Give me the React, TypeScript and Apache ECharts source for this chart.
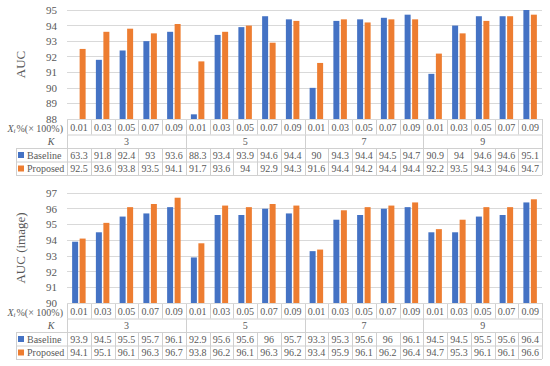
import React, { useEffect, useRef } from 'react';
import * as echarts from 'echarts';

const xiLabels = ['0.01', '0.03', '0.05', '0.07', '0.09'];
const kValues = ['3', '5', '7', '9'];
const categories = kValues.flatMap((k) => xiLabels.map((x) => `${k}|${x}`));

const aucBaseline = [63.3, 91.8, 92.4, 93, 93.6, 88.3, 93.4, 93.9, 94.6, 94.4, 90, 94.3, 94.4, 94.5, 94.7, 90.9, 94, 94.6, 94.6, 95.1];
const aucProposed = [92.5, 93.6, 93.8, 93.5, 94.1, 91.7, 93.6, 94, 92.9, 94.3, 91.6, 94.4, 94.2, 94.4, 94.4, 92.2, 93.5, 94.3, 94.6, 94.7];
const imgBaseline = [93.9, 94.5, 95.5, 95.7, 96.1, 92.9, 95.6, 95.6, 96, 95.7, 93.3, 95.3, 95.6, 96, 96.1, 94.5, 94.5, 95.5, 95.6, 96.4];
const imgProposed = [94.1, 95.1, 96.1, 96.3, 96.7, 93.8, 96.2, 96.1, 96.3, 96.2, 93.4, 95.9, 96.1, 96.2, 96.4, 94.7, 95.3, 96.1, 96.1, 96.6];

const seriesNames = ['Baseline', 'Proposed'];
const colors = ['#4472C4', '#ED7D31'];

const W = 550;
const H = 366;
const GL = 67;
const GR = 542;
const FONT = 'Liberation Serif';
const TXT = '#595959';
const LINE = '#D0D0D0';

function txt(x: number, y: number, text: string, align: string, extra: any = {}) {
  return {
    type: 'text',
    silent: true,
    style: {
      x,
      y,
      text,
      align,
      verticalAlign: 'middle',
      textAlign: align,
      textVerticalAlign: 'middle',
      fill: TXT,
      fontSize: 10,
      lineHeight: 10,
      fontFamily: FONT,
      ...extra,
    },
  };
}

function ln(x1: number, y1: number, x2: number, y2: number) {
  return {
    type: 'line',
    silent: true,
    shape: { x1, y1, x2, y2 },
    style: { stroke: LINE, lineWidth: 1 },
  };
}

function tableElements(top: number, base: number[], prop: number[]) {
  const els: any[] = [];
  const n = categories.length;
  const cw = (GR - GL) / n;
  const r = [top, top + 15.5, top + 29, top + 42.5, top + 56];
  const c = [top + 8.5, top + 22.5, top + 36, top + 49.5];
  els.push(ln(GL, r[0] + 0.5, GR, r[0] + 0.5));
  els.push(ln(GL, r[1] + 0.5, GR, r[1] + 0.5));
  els.push(ln(16, r[2] + 0.5, GR, r[2] + 0.5));
  els.push(ln(16, r[3] + 0.5, GR, r[3] + 0.5));
  els.push(ln(16, r[4] + 0.5, GR, r[4] + 0.5));
  for (let i = 0; i <= n; i++) {
    const x = Math.round(GL + i * cw) + 0.5;
    els.push(ln(x, r[0], x, r[1]));
    if (i % xiLabels.length === 0) els.push(ln(x, r[1], x, r[2]));
    els.push(ln(x, r[2], x, r[4]));
  }
  els.push(ln(16.5, r[2], 16.5, r[4]));
  // X_i %(x 100%) label, split into pieces to draw the subscript
  const ly = c[0] + 1;
  els.push(txt(63, ly, '%(× 100%)', 'right'));
  els.push(txt(14.5, ly + 2.5, 'i', 'center', { fontStyle: 'italic', fontSize: 7, lineHeight: 7 }));
  els.push(txt(13.5, ly, 'X', 'right', { fontStyle: 'italic' }));
  els.push(txt(51, c[1], 'K', 'center', { fontStyle: 'italic' }));
  [c[2], c[3]].forEach((cy, si) => {
    els.push({
      type: 'rect',
      silent: true,
      shape: { x: 18, y: cy - 3, width: 6, height: 6 },
      style: { fill: colors[si] },
    });
    els.push(txt(27, cy, seriesNames[si], 'left'));
  });
  categories.forEach((cat, i) => {
    const cx = GL + (i + 0.5) * cw;
    els.push(txt(cx, c[0], xiLabels[i % xiLabels.length], 'center'));
    els.push(txt(cx, c[2], String(base[i]), 'center'));
    els.push(txt(cx, c[3], String(prop[i]), 'center'));
  });
  kValues.forEach((k, gi) => {
    const cx = GL + (gi + 0.5) * xiLabels.length * cw;
    els.push(txt(cx, c[1], k, 'center'));
  });
  return els;
}

const grids = [
  { top: 10, height: 109 },
  { top: 193, height: 110 },
];

export default function App() {
  const ref = useRef<HTMLDivElement>(null);
  useEffect(() => {
    if (!ref.current) return;
    const chart = echarts.init(ref.current, undefined, { renderer: 'svg' });
    const yAxisCommon = (gi: number, min: number, max: number, name: string) => ({
      type: 'value',
      gridIndex: gi,
      min,
      max,
      interval: 1,
      name,
      nameLocation: 'middle',
      nameGap: 40,
      nameTextStyle: { color: TXT, fontSize: 13, fontFamily: FONT },
      axisLine: { show: false },
      axisTick: { show: false },
      axisLabel: { color: TXT, fontSize: 11, lineHeight: 10, fontFamily: FONT, margin: 10 },
      splitLine: { lineStyle: { color: '#D9D9D9', width: 1 } },
    });
    const xAxisCommon = (gi: number) => ({
      type: 'category',
      gridIndex: gi,
      data: categories,
      axisLine: { show: false },
      axisTick: { show: false },
      axisLabel: { show: false },
      splitLine: { show: false },
    });
    const bar = (name: string, data: number[], gi: number, ci: number) => ({
      type: 'bar',
      name,
      data,
      xAxisIndex: gi,
      yAxisIndex: gi,
      barWidth: 6,
      barGap: '25%',
      clip: true,
      itemStyle: { color: colors[ci] },
    });
    chart.setOption({
      animation: false,
      grid: grids.map((g) => ({ left: GL, right: W - GR, top: g.top, height: g.height })),
      xAxis: [xAxisCommon(0), xAxisCommon(1)],
      yAxis: [yAxisCommon(0, 88, 95, 'AUC'), yAxisCommon(1, 90, 97, 'AUC (image)')],
      series: [
        bar(seriesNames[0], aucBaseline, 0, 0),
        bar(seriesNames[1], aucProposed, 0, 1),
        bar(seriesNames[0], imgBaseline, 1, 0),
        bar(seriesNames[1], imgProposed, 1, 1),
      ],
      graphic: [
        ...tableElements(grids[0].top + grids[0].height, aucBaseline, aucProposed),
        ...tableElements(grids[1].top + grids[1].height, imgBaseline, imgProposed),
      ],
    });
    return () => chart.dispose();
  }, []);
  return (
    <div
      ref={ref}
      style={{ position: 'fixed', left: 0, top: 0, width: W, height: H, background: '#fff' }}
    />
  );
}
